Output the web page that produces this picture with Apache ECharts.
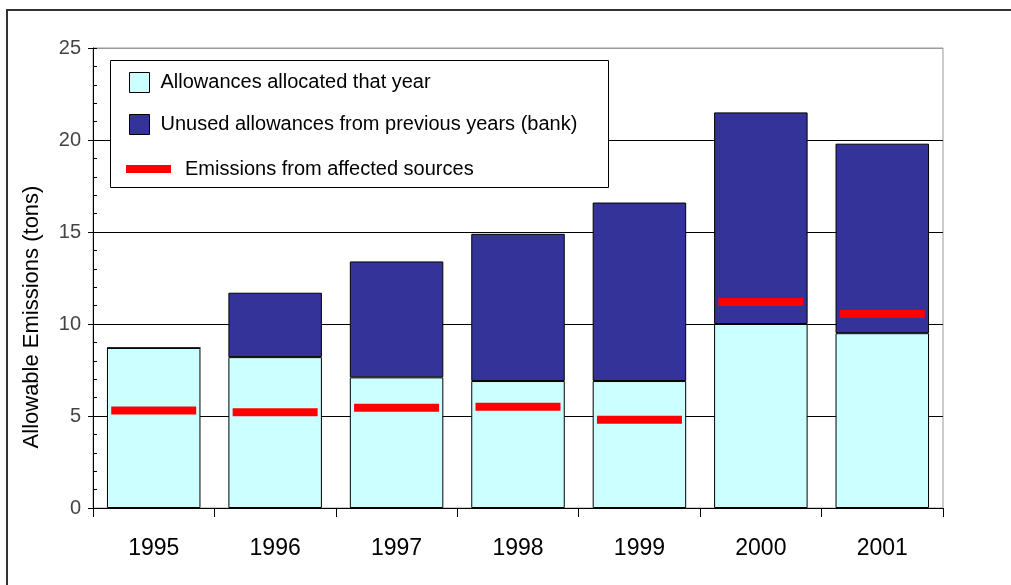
<!DOCTYPE html>
<html>
<head>
<meta charset="utf-8">
<script src="https://cdn.jsdelivr.net/npm/echarts@6/dist/echarts.min.js"></script>
<style>
html,body{margin:0;padding:0;background:#fff;}
#chart{width:1011px;height:585px;}
</style>
</head>
<body>
<div id="chart"></div>
<script>
var years = ['1995','1996','1997','1998','1999','2000','2001'];
var allocated = [8.7, 8.2, 7.1, 6.9, 6.9, 10.0, 9.5];
var bank = [0, 3.5, 6.3, 8.0, 9.7, 11.5, 10.3];
var emissions = [5.3, 5.2, 5.45, 5.5, 4.8, 11.2, 10.55];
var yTicks = [0, 5, 10, 15, 20, 25];

var FONT = '"Liberation Sans", Arial, sans-serif';
var chart = echarts.init(document.getElementById('chart'));
chart.setOption({
  animation: false,
  backgroundColor: '#ffffff',
  grid: {left: 93, right: 68, top: 48, bottom: 77, show: true, borderColor: '#999', borderWidth: 1, backgroundColor: 'transparent'},
  xAxis: {
    type: 'category',
    data: years,
    boundaryGap: true,
    axisLine: {lineStyle: {color: '#000', width: 1}},
    axisTick: {show: true, length: 9, lineStyle: {color: '#000'}},
    axisLabel: {margin: 29, fontSize: 23, color: '#000', fontFamily: FONT},
    splitLine: {show: false}
  },
  yAxis: [{
    type: 'value',
    min: yTicks[0], max: yTicks[yTicks.length - 1], interval: 5,
    name: 'Allowable Emissions (tons)',
    nameLocation: 'middle',
    nameGap: 50,
    nameTextStyle: {fontSize: 22, color: '#000', fontFamily: FONT, padding: [0, 78, 0, 0]},
    axisLine: {show: true, lineStyle: {color: '#000', width: 1}},
    axisTick: {show: true, length: 5, lineStyle: {color: '#000'}},
    axisLabel: {margin: 12, fontSize: 20, color: '#444', fontFamily: FONT},
    splitLine: {show: true, lineStyle: {color: ['#000','#000','#000','#000','#000','#999'], width: 1}}
  }, {
    type: 'value',
    min: 0, max: 25, interval: 1,
    position: 'left',
    axisLine: {show: false},
    axisTick: {show: true, inside: true, length: 4, lineStyle: {color: '#000'}},
    axisLabel: {show: false},
    splitLine: {show: false}
  }],
  legend: [{
    orient: 'vertical',
    left: 124, top: 67,
    itemWidth: 20, itemHeight: 20, itemGap: 21,
    icon: 'rect',
    selectedMode: false,
    z: 20,
    data: ['Allowances allocated that year', 'Unused allowances from previous years (bank)'],
    itemStyle: {borderColor: '#000', borderWidth: 1},
    textStyle: {fontSize: 20, color: '#000', fontFamily: FONT, padding: [0, 0, 0, 6]}
  }, {
    orient: 'vertical',
    left: 121, top: 154,
    itemWidth: 45, itemHeight: 8,
    icon: 'rect',
    selectedMode: false,
    z: 20,
    data: ['Emissions from affected sources'],
    textStyle: {fontSize: 20, color: '#000', fontFamily: FONT, padding: [0, 0, 0, 9]}
  }],
  graphic: [
    {type: 'rect', z: 3, shape: {x: 110.5, y: 60.5, width: 498, height: 127}, style: {fill: '#fff', stroke: '#000', lineWidth: 1}},
    {type: 'line', shape: {x1: 6, y1: 10, x2: 1011, y2: 10}, style: {stroke: '#333', lineWidth: 2}},
    {type: 'line', shape: {x1: 7, y1: 10, x2: 7, y2: 585}, style: {stroke: '#333', lineWidth: 2}}
  ],
  series: [{
    name: 'Allowances allocated that year',
    type: 'bar',
    stack: 'total',
    data: allocated,
    barCategoryGap: '23%',
    itemStyle: {color: '#CCFFFF', borderColor: '#000', borderWidth: 1}
  }, {
    name: 'Unused allowances from previous years (bank)',
    type: 'bar',
    stack: 'total',
    data: bank,
    barCategoryGap: '23%',
    itemStyle: {color: '#333399', borderColor: '#000', borderWidth: 1}
  }, {
    name: 'Emissions from affected sources',
    type: 'scatter',
    data: emissions,
    symbol: 'rect',
    symbolSize: [85, 8],
    z: 5,
    itemStyle: {color: '#FF0000', opacity: 1}
  }]
});
</script>
</body>
</html>
